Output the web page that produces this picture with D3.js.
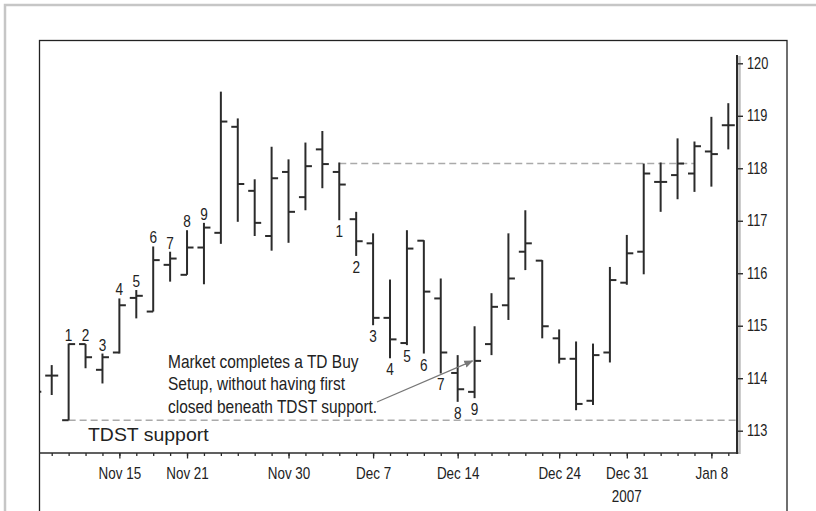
<!DOCTYPE html>
<html>
<head>
<meta charset="utf-8">
<script src="https://cdn.jsdelivr.net/npm/d3@7"></script>
<style>
  html, body { margin: 0; padding: 0; background: #fff; }
  svg { display: block; }
  text { font-family: "Liberation Sans", Arial, sans-serif; font-size: 16px; fill: #222; }
</style>
</head>
<body>
<svg id="chart" width="816" height="511"></svg>
<script>
// ===== data: one bar per trading day, index -1 is the bar cut off at the left edge
const days  = d3.range(-1, 41);
const open  = [113.90, 114.05, 113.20, 114.65, 114.16, 114.49, 115.53, 115.27, 116.16, 115.97, 116.49,
               116.77, 118.79, 117.57, 116.71, 117.93, 117.45, 118.36, 117.93, 117.03, 116.57,
               115.15, 114.67, 116.62, 115.52, 114.10, 113.74, 114.65, 115.39, 116.41, 116.24,
               114.76, 114.37, 113.57, 114.49, 115.82, 116.41, 117.74, 117.87, 117.90, 118.32, 118.82];
const high  = [114.10, 114.25, 114.66, 114.65, 114.47, 115.52, 115.68, 116.51, 116.41, 116.82, 116.96,
               119.46, 118.95, 117.79, 118.41, 118.17, 118.49, 118.71, 118.11, 117.17, 116.76,
               115.88, 116.82, 116.63, 115.90, 114.44, 114.99, 115.62, 116.76, 117.20, 116.25,
               114.93, 114.70, 114.66, 116.12, 116.73, 118.09, 118.11, 118.57, 118.51, 118.98, 119.24];
const low   = [113.50, 113.68, 113.20, 114.19, 113.90, 114.47, 115.14, 115.27, 115.84, 115.97, 115.79,
               116.56, 116.98, 116.71, 116.43, 116.58, 117.20, 117.62, 117.01, 116.33, 115.01,
               114.38, 114.63, 114.47, 114.09, 113.55, 113.62, 114.44, 115.11, 116.06, 114.76,
               114.28, 113.39, 113.49, 114.30, 115.78, 115.98, 117.17, 117.41, 117.55, 117.65, 118.36];
const close = [113.74, 114.05, 114.65, 114.40, 114.40, 115.39, 115.57, 116.25, 116.28, 116.49, 116.87,
               118.89, 117.70, 116.96, 117.81, 117.17, 118.04, 118.08, 117.69, 116.61, 115.15,
               114.74, 116.47, 115.65, 114.49, 113.79, 114.33, 115.36, 115.90, 116.57, 114.99,
               114.37, 113.51, 114.44, 115.87, 116.38, 117.90, 117.74, 118.09, 118.42, 118.27, 118.82];

// TD setup counts: sell setup above the highs, buy setup below the lows
const sellSetupDays = [1, 2, 3, 4, 5, 6, 7, 8, 9];
const buySetupDays  = [17, 18, 19, 20, 21, 22, 23, 24, 25];

// TDST levels
const tdstResistance = { level: 118.09, from: 17, to: 38 };
const tdstSupport    = { level: 113.20, from: 1 };

const xTickDays   = [4, 8, 14, 19, 24, 30, 34, 39];
const xTickLabels = ["Nov 15", "Nov 21", "Nov 30", "Dec 7", "Dec 14", "Dec 24", "Dec 31", "Jan 8"];
const yTicks      = [113, 114, 115, 116, 117, 118, 119, 120];

const noteLines = ["Market completes a TD Buy", "Setup, without having first", "closed beneath TDST support."];

const bars = days.map((d, i) => ({ day: d, o: open[i], h: high[i], l: low[i], c: close[i] }));

// ===== layout
const svg = d3.select("#chart");
const plotLeft = 39, plotRight = 737, plotTop = 40, plotBottom = 453;

const x = d3.scaleLinear().domain([-1, 40]).range([34.8, 728.3]);
const y = d3.scaleLinear().domain([113, 120]).range([430.7, 63.3]);
const tickLen = 6.5;
const ink = "#2b2b2b";

// the book font is a narrow sans, so squeeze the text horizontally around its anchor
function squeeze(sel, sx) {
  sel.each(function() {
    const t = d3.select(this);
    const tx = +t.attr("x") || 0, ty = +t.attr("y") || 0;
    t.attr("x", 0).attr("y", 0)
      .attr("transform", `translate(${tx},${ty}) scale(${sx},1)`);
  });
}

svg.append("rect").attr("width", 816).attr("height", 511).attr("fill", "#fff");

// outer grey frame (top and left only are visible)
svg.append("path")
  .attr("d", "M5,520 V5 H820")
  .attr("fill", "none").attr("stroke", "#c6c6c6").attr("stroke-width", 2.5);

// black box around the chart
svg.append("rect")
  .attr("x", 39.5).attr("y", 40.5).attr("width", 747.5).attr("height", 500)
  .attr("fill", "#fff").attr("stroke", "#222").attr("stroke-width", 1.3);

svg.append("clipPath").attr("id", "plotClip")
  .append("rect")
  .attr("x", plotLeft + 1).attr("y", plotTop).attr("width", plotRight - plotLeft - 1).attr("height", plotBottom - plotTop);

// ===== dashed TDST lines
const dashes = svg.append("g")
  .attr("stroke", "#aaa").attr("stroke-width", 1.6).attr("stroke-dasharray", "7,4");

dashes.append("line")
  .attr("x1", x(tdstResistance.from)).attr("x2", x(tdstResistance.to))
  .attr("y1", y(tdstResistance.level)).attr("y2", y(tdstResistance.level));

dashes.append("line")
  .attr("x1", x(tdstSupport.from)).attr("x2", plotRight)
  .attr("y1", y(tdstSupport.level)).attr("y2", y(tdstSupport.level));

// ===== OHLC bars
const barG = svg.append("g").attr("clip-path", "url(#plotClip)")
  .attr("stroke", ink).attr("stroke-width", 2);

const bar = barG.selectAll("g.bar")
  .data(bars)
  .join("g")
  .attr("class", "bar");

bar.append("line")
  .attr("x1", d => x(d.day)).attr("x2", d => x(d.day))
  .attr("y1", d => y(d.h)).attr("y2", d => y(d.l));

bar.append("line")
  .attr("x1", d => x(d.day) - tickLen).attr("x2", d => x(d.day))
  .attr("y1", d => y(d.o)).attr("y2", d => y(d.o));

bar.append("line")
  .attr("x1", d => x(d.day)).attr("x2", d => x(d.day) + tickLen)
  .attr("y1", d => y(d.c)).attr("y2", d => y(d.c));

// ===== setup count labels
const byDay = new Map(bars.map(d => [d.day, d]));

svg.append("g").selectAll("text")
  .data(sellSetupDays)
  .join("text")
  .attr("x", d => x(d))
  .attr("y", d => y(byDay.get(d).h) - 3)
  .attr("text-anchor", "middle")
  .text((d, i) => i + 1)
  .call(squeeze, 0.85);

svg.append("g").selectAll("text")
  .data(buySetupDays)
  .join("text")
  .attr("x", d => x(d))
  .attr("y", d => y(byDay.get(d).l) + 17)
  .attr("text-anchor", "middle")
  .text((d, i) => i + 1)
  .call(squeeze, 0.85);

// ===== annotation with arrow to the 9 of the buy setup
svg.append("defs").append("marker")
  .attr("id", "arrowHead")
  .attr("viewBox", "0 0 10 10")
  .attr("refX", 9).attr("refY", 5)
  .attr("markerWidth", 7).attr("markerHeight", 7)
  .attr("orient", "auto")
  .append("path").attr("d", "M0,1 L10,5 L0,9 Z").attr("fill", "#777");

svg.append("g").selectAll("text")
  .data(noteLines)
  .join("text")
  .attr("x", 168)
  .attr("y", (d, i) => 367.5 + i * 22.5)
  .style("font-size", "18px")
  .text(d => d)
  .call(squeeze, 0.86);

const nine = byDay.get(buySetupDays[8]);
svg.append("line")
  .attr("x1", 377).attr("y1", 402)
  .attr("x2", x(nine.day) - 2).attr("y2", y(nine.c))
  .attr("stroke", "#777").attr("stroke-width", 1.3)
  .attr("marker-end", "url(#arrowHead)");

svg.append("text")
  .attr("x", 88).attr("y", 440.5)
  .style("font-size", "18px")
  .text("TDST support")
  .call(squeeze, 1.08);

// ===== x axis: a small tick per day, longer ticks at the labels
const xAxisG = svg.append("g").attr("transform", `translate(0,${plotBottom})`);

xAxisG.append("g")
  .call(d3.axisBottom(x).tickValues(d3.range(0, 41)).tickSize(3).tickFormat(""))
  .call(g => g.select(".domain").remove());

xAxisG.append("g")
  .call(d3.axisBottom(x).tickValues(xTickDays).tickSize(5.5).tickPadding(9)
    .tickFormat((d, i) => xTickLabels[i]))
  .call(g => g.select(".domain").remove());

xAxisG.selectAll("line").attr("stroke", ink).attr("stroke-width", 1.3);
xAxisG.selectAll("text")
  .attr("font-family", null).attr("font-size", null).attr("fill", null)
  .call(squeeze, 0.84);

xAxisG.append("line")
  .attr("x1", plotLeft).attr("x2", plotRight + 3)
  .attr("stroke", ink).attr("stroke-width", 1.6);

svg.append("text")
  .attr("x", x(xTickDays[6])).attr("y", 502)
  .attr("text-anchor", "middle")
  .text("2007")
  .call(squeeze, 0.84);

// ===== y axis on the right
const yAxisG = svg.append("g").attr("transform", `translate(${plotRight},0)`);

yAxisG.append("line")
  .attr("x1", 2.5).attr("x2", 2.5).attr("y1", 56).attr("y2", plotBottom + 1)
  .attr("stroke", "#bdbdbd").attr("stroke-width", 2.5);

yAxisG.call(d3.axisRight(y).tickValues(yTicks).tickSize(6).tickPadding(4).tickFormat(d3.format("d")))
  .call(g => g.select(".domain").remove());

yAxisG.selectAll(".tick line").attr("stroke", ink).attr("stroke-width", 1.4);
yAxisG.selectAll("text")
  .attr("font-family", null).attr("font-size", null).attr("fill", null)
  .call(squeeze, 0.8);

yAxisG.append("line")
  .attr("x1", 0).attr("x2", 0).attr("y1", 55).attr("y2", plotBottom + 1)
  .attr("stroke", ink).attr("stroke-width", 2);
</script>
</body>
</html>
